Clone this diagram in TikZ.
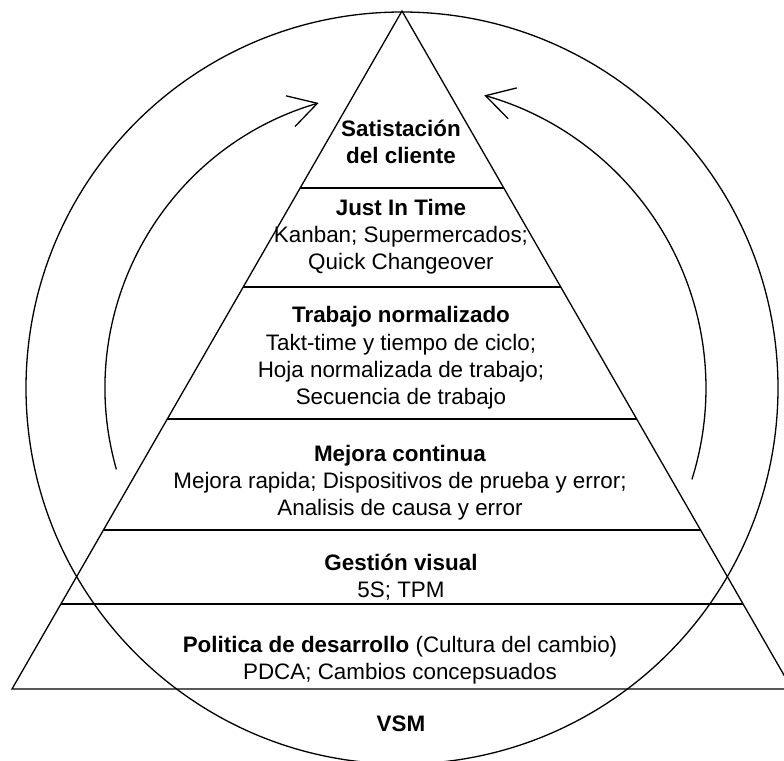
\documentclass[tikz,border=0pt]{standalone}
\usepackage{fontspec}
\setmainfont{Liberation Sans}
\usetikzlibrary{arrows.meta,calc}
\begin{document}
\begin{tikzpicture}[x=0.5pt,y=-0.5pt,line width=0.65pt,
  lbl/.style={align=center,font=\fontsize{11.2pt}{13.6pt}\selectfont,inner sep=0pt},
  sepline/.style={draw,line width=0.65pt},
  cyc/.style={-{Straight Barb[length=14pt,width=16pt]}}]
\useasboundingbox (0,0) rectangle (784,761);
\clip (0,0) rectangle (784,761);
\coordinate (A) at (402,11);
\coordinate (B) at (12,689);
\coordinate (C) at (792,689);
\coordinate (O) at (402,388);
% outer circle
\draw (O) circle[radius=188pt];
% pyramid
\draw (A) -- (B) -- (C) -- cycle;
\foreach \t in {0.2611,0.4071,0.6018,0.7655,0.8746}
  \draw ($(A)!\t!(B)$) -- ($(A)!\t!(C)$);
% cycle arrows
\draw[cyc] ($(O)+(195.9:148.5pt)$) arc[start angle=195.9,end angle=106.3,radius=148.5pt];
\draw[cyc] ($(O)+(-17.5:152pt)$) arc[start angle=-17.5,end angle=74.3,radius=152pt];
% labels
\node[lbl] (n1) at (401,141.5) {\textbf{Satistación}\\\textbf{del cliente}};
\node[lbl] (n2) at (401,237) {\textbf{Just In Time}\\Kanban; Supermercados;\\Quick Changeover};
\node[lbl] (n3) at (401,358) {\textbf{Trabajo normalizado}\\Takt-time y tiempo de ciclo;\\Hoja normalizada de trabajo;\\Secuencia de trabajo};
\node[lbl] (n4) at (400,483) {\textbf{Mejora continua}\\Mejora rapida; Dispositivos de prueba y error;\\Analisis de causa y error};
\node[lbl] (n5) at (401,577) {\textbf{Gestión visual}\\5S; TPM};
\node[lbl] (n6) at (400,660) {\textbf{Politica de desarrollo} (Cultura del cambio)\\PDCA; Cambios concepsuados};
\node[lbl] (n7) at (401,724) {\textbf{VSM}};
\end{tikzpicture}
\end{document}
